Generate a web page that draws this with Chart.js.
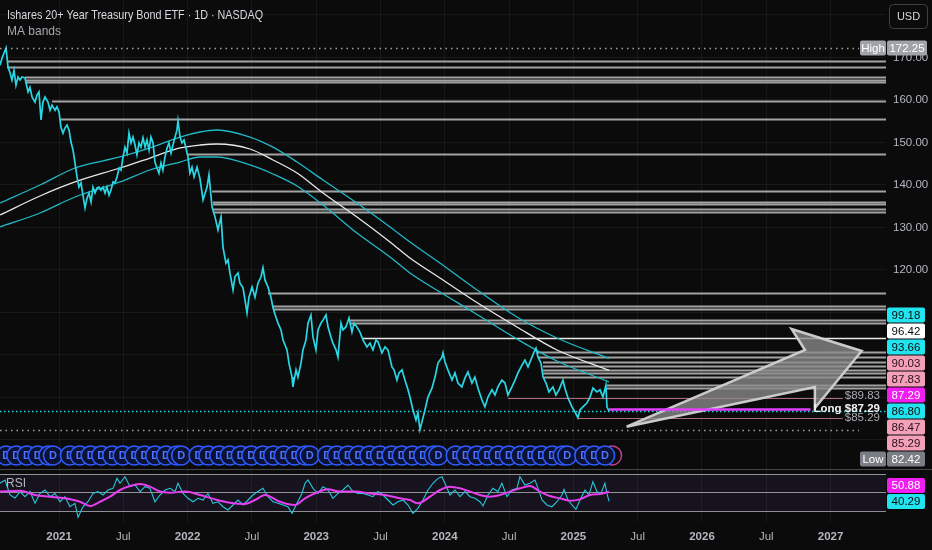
<!DOCTYPE html>
<html>
<head>
<meta charset="utf-8">
<title>TLT daily with MA bands and RSI</title>
<script src="https://cdn.jsdelivr.net/npm/chart.js@4.4.1/dist/chart.umd.min.js"></script>
<style>
  html, body { margin: 0; padding: 0; background: #0b0b0c; }
  #wrap { width: 932px; height: 550px; }
</style>
</head>
<body>
<div id="wrap"><canvas id="tltChart" width="932" height="550"></canvas></div>
<script>
// ---- values (x = decimal year) ----
const priceT = [
  2020.541,2020.557,2020.588,2020.603,2020.619,2020.634,2020.650,2020.665,2020.681,2020.697,
  2020.712,2020.735,2020.759,2020.774,2020.790,2020.813,2020.829,2020.844,2020.860,2020.875,
  2020.891,2020.914,2020.930,2020.945,2020.969,2020.984,2021.000,2021.015,2021.031,2021.046,
  2021.062,2021.078,2021.093,2021.109,2021.124,2021.140,2021.155,2021.171,2021.186,2021.202,
  2021.218,2021.233,2021.249,2021.264,2021.280,2021.295,2021.311,2021.326,2021.342,2021.358,
  2021.373,2021.389,2021.404,2021.420,2021.435,2021.451,2021.467,2021.482,2021.498,2021.513,
  2021.529,2021.544,2021.560,2021.575,2021.591,2021.606,2021.622,2021.637,2021.653,2021.669,
  2021.684,2021.700,2021.715,2021.731,2021.746,2021.762,2021.777,2021.793,2021.808,2021.824,
  2021.840,2021.855,2021.871,2021.886,2021.902,2021.917,2021.925,2021.941,2021.956,2021.972,
  2021.987,2022.003,2022.018,2022.034,2022.050,2022.073,2022.096,2022.120,2022.151,2022.166,
  2022.190,2022.213,2022.236,2022.260,2022.275,2022.298,2022.314,2022.329,2022.353,2022.368,
  2022.392,2022.407,2022.431,2022.462,2022.477,2022.501,2022.524,2022.547,2022.571,2022.586,
  2022.602,2022.625,2022.648,2022.664,2022.687,2022.703,2022.726,2022.742,2022.773,2022.788,
  2022.812,2022.819,2022.843,2022.858,2022.882,2022.897,2022.920,2022.936,2022.959,2022.975,
  2022.998,2023.014,2023.037,2023.053,2023.076,2023.092,2023.115,2023.130,2023.154,2023.169,
  2023.193,2023.208,2023.231,2023.255,2023.278,2023.294,2023.317,2023.340,2023.364,2023.395,
  2023.418,2023.441,2023.465,2023.480,2023.511,2023.535,2023.558,2023.589,2023.605,2023.628,
  2023.644,2023.667,2023.690,2023.714,2023.729,2023.752,2023.776,2023.791,2023.807,2023.830,
  2023.846,2023.869,2023.900,2023.924,2023.947,2023.978,2023.986,2024.001,2024.024,2024.056,
  2024.079,2024.102,2024.133,2024.157,2024.180,2024.211,2024.234,2024.258,2024.289,2024.312,
  2024.336,2024.367,2024.390,2024.413,2024.444,2024.468,2024.491,2024.522,2024.546,2024.569,
  2024.600,2024.623,2024.647,2024.678,2024.694,2024.709,2024.725,2024.748,2024.764,2024.787,
  2024.810,2024.841,2024.864,2024.888,2024.919,2024.934,2024.958,2024.989,2025.012,2025.035,
  2025.051,2025.074,2025.105,2025.129,2025.152,2025.183,2025.207,2025.230,2025.253,2025.261,
  2025.277
];
const priceClose = [
  168.2,169.9,172.25,167.8,166.4,164.7,167.0,163.5,165.4,164.7,
  165.4,165.2,161.9,163.0,160.7,159.5,161.2,161.9,155.3,159.5,
  160.7,159.5,157.6,158.8,157.6,158.4,157.2,153.6,152.2,153.4,
  154.1,152.9,150.1,148.2,145.2,141.9,139.5,140.5,137.6,134.6,
  136.9,138.1,136.0,139.5,138.1,139.3,139.5,138.8,139.5,138.1,
  139.5,137.6,138.8,140.7,140.5,141.9,144.0,143.5,146.6,148.9,
  147.5,152.2,149.9,151.3,149.4,147.1,149.9,148.9,151.1,148.9,
  150.6,148.2,151.3,149.9,145.4,144.0,142.8,145.2,143.5,146.6,
  148.7,149.9,147.5,149.4,151.3,152.9,155.1,151.3,149.9,150.6,
  148.7,146.6,142.8,144.2,141.9,144.2,141.5,136.5,139.5,142.4,
  134.8,132.5,129.4,132.5,125.4,121.6,122.4,119.3,115.3,118.4,
  119.3,116.9,115.8,109.9,113.6,116.0,113.6,116.9,118.4,120.5,
  117.6,116.0,113.6,111.1,108.9,107.5,105.9,103.5,101.2,98.1,
  94.8,92.5,96.5,94.8,98.1,101.2,103.5,107.5,109.4,104.2,
  101.2,105.9,107.5,108.2,109.4,106.6,104.2,102.8,101.2,99.5,
  107.5,105.9,106.6,108.7,105.4,107.5,106.6,105.4,103.5,101.9,
  102.8,101.2,103.5,103.1,100.5,101.9,101.2,97.2,96.5,94.1,
  95.8,96.5,94.1,91.8,90.1,87.1,84.7,86.4,82.42,85.2,
  87.1,90.1,92.2,94.8,98.1,99.5,100.5,98.4,96.5,94.1,
  95.8,93.4,92.5,94.6,96.0,93.4,94.8,92.2,89.4,87.8,
  90.1,91.8,90.6,92.5,94.1,93.4,90.6,92.5,94.1,95.8,
  97.6,98.8,97.2,99.5,100.7,101.6,99.5,98.1,94.8,93.4,
  91.3,92.5,90.6,91.8,94.1,92.2,89.9,87.8,86.6,85.2,
  87.1,87.8,88.7,90.1,92.2,91.3,91.8,90.1,92.9,87.8,
  86.80
];

// MA bands
const bandT = [2020.541,2020.852,2021.124,2021.474,2021.707,2021.941,2022.096,2022.228,2022.485,2022.664,
               2022.851,2023.053,2023.317,2023.574,2023.729,2023.962,2024.219,2024.561,2024.872,2025.277];
const bandUpper = [135.76,140.0,144.0,146.59,148.71,151.29,152.47,152.94,151.29,148.9,
                   145.4,141.18,135.76,130.12,126.59,121.65,116.0,108.94,104.0,99.18];
const bandMid = [132.94,137.41,140.71,144.0,146.35,148.71,149.41,149.65,148.47,145.88,
                 142.82,138.12,132.47,126.59,122.82,118.12,112.94,106.59,101.18,96.42];
const bandLower = [130.12,133.41,137.18,140.71,143.53,145.41,146.59,146.59,144.71,142.59,
                   139.76,135.29,128.71,123.06,119.29,114.82,110.12,103.76,98.59,93.66];

// RSI and its moving average
const rsiT = [
  2020.541,2020.580,2020.619,2020.658,2020.697,2020.735,2020.774,2020.813,2020.852,2020.891,
  2020.930,2020.969,2021.008,2021.046,2021.085,2021.124,2021.148,2021.186,2021.225,2021.264,
  2021.303,2021.342,2021.381,2021.420,2021.451,2021.474,2021.513,2021.552,2021.591,2021.630,
  2021.669,2021.707,2021.746,2021.785,2021.824,2021.863,2021.902,2021.925,2021.964,2022.003,
  2022.042,2022.081,2022.120,2022.158,2022.197,2022.236,2022.275,2022.314,2022.353,2022.392,
  2022.431,2022.470,2022.508,2022.547,2022.586,2022.625,2022.664,2022.703,2022.742,2022.780,
  2022.812,2022.850,2022.889,2022.913,2022.936,2022.975,2023.014,2023.053,2023.092,2023.130,
  2023.169,2023.208,2023.247,2023.286,2023.325,2023.364,2023.403,2023.441,2023.480,2023.519,
  2023.558,2023.597,2023.636,2023.675,2023.714,2023.752,2023.791,2023.830,2023.869,2023.908,
  2023.947,2023.978,2024.001,2024.040,2024.079,2024.118,2024.157,2024.196,2024.235,2024.273,
  2024.297,2024.336,2024.374,2024.413,2024.444,2024.483,2024.522,2024.561,2024.584,2024.623,
  2024.662,2024.701,2024.725,2024.756,2024.794,2024.833,2024.872,2024.911,2024.927,2024.958,
  2024.989,2025.020,2025.051,2025.090,2025.121,2025.152,2025.183,2025.214,2025.245,2025.261,
  2025.277
];
const rsiValue = [
  60,63.5,47.3,44,50.9,45.5,51,38.3,49,52.7,
  45.5,49,40,45.5,34.6,38.3,23.2,34.6,40,49,
  51,47.3,52.7,54.5,65.3,60,67.1,56.3,58.1,51,
  56.3,54.5,40,47.3,52.7,54.5,51,60,49,43.7,
  40,43.7,41.9,49,38.3,40,34.6,31.1,36.5,41.9,
  36.5,41.9,47.3,51,54.5,45.5,40,38.3,36.5,34.6,
  27.5,38.3,49,60,63.5,54.5,49,56.3,52.7,43.7,
  49,52.7,58.1,51,49,49,47.3,45.5,51,47.3,
  41.9,36.5,40,41.9,36.5,27.5,32.9,41.9,52.7,60,
  65.3,67.1,60,47.3,52.7,45.5,51,45.5,43.7,40,
  35.4,47.3,54.5,51,60,45.5,52.7,54.5,67.1,58.1,
  60,63.5,54.5,41.9,36.5,34.6,40,47.3,53.5,41.9,
  36.5,31.8,41.9,52.7,47.3,61.7,51,49,60,49,
  40.29
];
const rsiMaT = [
  2020.541,2020.697,2020.813,2020.930,2021.046,2021.163,2021.241,2021.319,2021.396,2021.474,
  2021.552,2021.630,2021.707,2021.785,2021.863,2021.980,2022.096,2022.213,2022.329,2022.446,
  2022.524,2022.602,2022.718,2022.835,2022.913,2022.990,2023.092,2023.185,2023.302,2023.418,
  2023.535,2023.651,2023.729,2023.791,2023.885,2023.962,2024.040,2024.118,2024.196,2024.273,
  2024.351,2024.429,2024.507,2024.584,2024.662,2024.740,2024.818,2024.895,2024.973,2025.051,
  2025.129,2025.207,2025.277
];
const rsiMa = [
  51,52,47.3,45.5,43.7,40,35.4,40,45.5,52.7,
  57,59.2,56.3,51,49.8,51,47.3,42.6,39,37.6,
  41.9,47.3,40,36.5,43.7,49,53.5,51,51,49,
  47.3,43.7,41.9,38.3,45.5,52.7,56.3,54.5,51,47.3,
  45.5,47.3,51,54.5,57,51,46.2,43.7,41.1,42.6,
  47.3,48.4,50.88
];
const rsiLevels = [70, 50, 30];

// horizontal rays drawn on the chart: price level and the date they start
const rayLevels = [169.2,167.8,165.4,164.7,164.2,159.8,155.5,147.3,138.6,136.0,135.5,134.4,133.7,
                   114.6,111.5,110.8,108.2,107.5,104.0,100.7,99.5,98.4,97.4,96.5,95.8,94.8,92.9,92.2];
const rayStarts = [2020.595,2020.595,2020.735,2020.735,2020.735,2020.945,2021.008,2022.003,2022.190,2022.197,
                   2022.197,2022.197,2022.197,2022.625,2022.664,2022.664,2023.263,2023.263,2023.364,2024.717,
                   2024.725,2024.764,2024.764,2024.764,2024.764,2024.764,2025.261,2025.261];
const brightRay = 104.0;

// axes
const xTicks = [2021,2021.5,2022,2022.5,2023,2023.5,2024,2024.5,2025,2025.5,2026,2026.5,2027];
const priceTicks = [80,90,100,110,120,130,140,150,160,170,180];
const labelledPriceTicks = [120,130,140,150,160,170];   // the others sit under the tags / USD box

// marks and labels
const highValue = 172.25, lowValue = 82.42, lastPrice = 86.80;
const longEntry = 87.29, targetLevel = 89.83, stopLevel = 85.29;
const targetStart = 2024.491, stopStart = 2025.035;
const tagValues = [99.18, 96.42, 93.66, 90.03, 87.83, 87.29, 86.80, 86.47, 85.29, 82.42];
const tagKinds = ['band', 'mid', 'band', 'pink', 'pink', 'long', 'last', 'pink', 'pink', 'low'];
const rsiTagValues = [50.88, 40.29];
const rsiTagKinds = ['rsiMa', 'rsi'];
const arrowT = [2025.414, 2026.801, 2026.697, 2027.242, 2026.878, 2026.878];
const arrowP = [83.13, 101.18, 106.12, 100.94, 87.53, 92.47];
const dividendYears = [2020, 2021, 2022, 2023, 2024, 2025];
const dividendDays = ['02-01','03-01','04-01','05-01','06-01','07-01','08-03','09-01','10-01','11-01','12-01','12-14'];
const firstDividend = 2020.58, lastDividend = 2025.26;

// ---- styles ----
const BG = '#0b0b0c';
const GRID = 'rgba(255,255,255,0.055)';
const AXIS_TEXT = '#b4b7be';
const FONT = "'Liberation Sans', 'DejaVu Sans', sans-serif";
const PRICE_CYAN = '#2ad6e4';
const BAND_CYAN = '#22b9c6';
const MAGENTA = '#e63ff0';
const TAG_STYLE = {
  band:  ['#22e4ef', '#0b0b0c'],
  mid:   ['#ffffff', '#0b0b0c'],
  pink:  ['#f3a0b8', '#2a1219'],
  long:  ['#f01ef0', '#ffffff'],
  last:  ['#22e4ef', '#0b0b0c'],
  low:   ['#7a7d86', '#ffffff'],
  rsiMa: ['#f01ef0', '#ffffff'],
  rsi:   ['#22e4ef', '#0b0b0c']
};

const pts = (xs, ys) => xs.map((v, i) => ({ x: v, y: ys[i] }));

function toYear(y, md) {
  const [m, d] = md.split('-').map(Number);
  return y + (Date.UTC(y, m - 1, d) - Date.UTC(y, 0, 1)) / (365.25 * 86400000);
}
const dividendT = [];
dividendYears.forEach(y => dividendDays.forEach(md => {
  const t = toYear(y, md);
  if (t >= firstDividend && t <= lastDividend) dividendT.push(t);
}));

function roundRect(ctx, x, y, w, h, r) {
  ctx.beginPath();
  ctx.moveTo(x + r, y);
  ctx.arcTo(x + w, y, x + w, y + h, r);
  ctx.arcTo(x + w, y + h, x, y + h, r);
  ctx.arcTo(x, y + h, x, y, r);
  ctx.arcTo(x, y, x + w, y, r);
  ctx.closePath();
}

// keep the last value's tag on its level and push the others away from it
function stackTags(values, anchor, scale, step) {
  const order = values.map((v, i) => i).sort((a, b) => values[b] - values[a]);
  const ys = new Array(values.length);
  const k = order.findIndex(i => values[i] === anchor);
  ys[order[k]] = scale.getPixelForValue(anchor);
  for (let j = k - 1; j >= 0; j--) {
    ys[order[j]] = Math.min(scale.getPixelForValue(values[order[j]]), ys[order[j + 1]] - step);
  }
  for (let j = k + 1; j < order.length; j++) {
    ys[order[j]] = Math.max(scale.getPixelForValue(values[order[j]]), ys[order[j - 1]] + step);
  }
  return ys;
}

function drawTag(ctx, x, yc, w, bg, fg, text) {
  const h = 15;
  ctx.fillStyle = bg;
  roundRect(ctx, x, yc - h / 2, w, h, 2);
  ctx.fill();
  ctx.fillStyle = fg;
  ctx.textAlign = 'center';
  ctx.textBaseline = 'middle';
  ctx.fillText(text, x + w / 2, yc + 0.5);
}

function hLine(ctx, x0, x1, y, color, width, dash) {
  ctx.save();
  ctx.strokeStyle = color;
  ctx.lineWidth = width;
  ctx.setLineDash(dash || []);
  ctx.beginPath();
  ctx.moveTo(x0, y);
  ctx.lineTo(x1, y);
  ctx.stroke();
  ctx.restore();
}

const overlay = {
  id: 'tvOverlay',
  beforeDraw(chart) {
    const { ctx, width, height } = chart;
    ctx.save();
    ctx.fillStyle = BG;
    ctx.fillRect(0, 0, width, height);
    ctx.restore();
  },
  beforeDatasetsDraw(chart) {
    const { ctx, chartArea: a, scales: { x, y, yRsi } } = chart;
    ctx.save();
    // RSI band
    const y70 = yRsi.getPixelForValue(70), y30 = yRsi.getPixelForValue(30);
    ctx.fillStyle = 'rgba(126,87,194,0.10)';
    ctx.fillRect(a.left, y70, a.right - a.left, y30 - y70);
    rsiLevels.forEach(l => hLine(ctx, a.left, a.right, Math.round(yRsi.getPixelForValue(l)) + 0.5, 'rgba(200,200,204,0.7)', 1));
    // horizontal rays
    rayLevels.forEach((lvl, i) => {
      const py = Math.round(y.getPixelForValue(lvl)) + 0.5;
      const px = x.getPixelForValue(rayStarts[i]);
      if (lvl === brightRay) hLine(ctx, px, a.right, py, '#e9e9e9', 1.6);
      else hLine(ctx, px, a.right, py, 'rgba(178,178,178,0.9)', 1.8);
    });
    ctx.restore();
  },
  afterDatasetsDraw(chart) {
    const { ctx, chartArea: a, scales: { x, y } } = chart;
    ctx.save();
    const paneBottom = y.bottom;
    const tagLeft = a.right - 27;

    // dotted high / low / last price lines
    hLine(ctx, a.left, tagLeft, Math.round(y.getPixelForValue(highValue)) + 0.5, 'rgba(200,200,200,0.8)', 1.3, [1.5, 4]);
    hLine(ctx, a.left, tagLeft, Math.round(y.getPixelForValue(lowValue)) + 0.5, 'rgba(200,200,200,0.8)', 1.3, [1.5, 4]);
    hLine(ctx, a.left, a.right, Math.round(y.getPixelForValue(lastPrice)) + 0.5, PRICE_CYAN, 1.3, [1.5, 2.5]);

    // position labels
    const textRight = a.right - 6;
    ctx.font = `11.5px ${FONT}`;
    const tW = ctx.measureText('$' + targetLevel.toFixed(2)).width;
    const sW = ctx.measureText('$' + stopLevel.toFixed(2)).width;
    ctx.font = `bold 11.5px ${FONT}`;
    const lW = ctx.measureText('Long $' + longEntry.toFixed(2)).width;
    const yTg = y.getPixelForValue(targetLevel), ySt = y.getPixelForValue(stopLevel), yLg = y.getPixelForValue(longEntry);
    hLine(ctx, x.getPixelForValue(targetStart), textRight - tW - 2, Math.round(yTg) + 0.5, 'rgba(240,150,180,0.7)', 1);
    hLine(ctx, x.getPixelForValue(stopStart), textRight - sW - 2, Math.round(ySt) + 0.5, 'rgba(240,150,180,0.7)', 1);

    // arrow drawing
    ctx.beginPath();
    arrowT.forEach((t, i) => {
      const px = x.getPixelForValue(t), py = y.getPixelForValue(arrowP[i]);
      if (i === 0) ctx.moveTo(px, py); else ctx.lineTo(px, py);
    });
    ctx.closePath();
    ctx.fillStyle = 'rgba(138,138,138,0.78)';
    ctx.fill();
    ctx.lineJoin = 'miter';
    ctx.lineWidth = 2.5;
    ctx.strokeStyle = 'rgba(210,210,210,0.95)';
    ctx.stroke();

    // long entry line and texts
    hLine(ctx, x.getPixelForValue(priceT[priceT.length - 1]), textRight - lW - 3, Math.round(yLg) + 0.5, '#e040fb', 2.5);
    ctx.textAlign = 'right';
    ctx.textBaseline = 'middle';
    ctx.font = `11.5px ${FONT}`;
    ctx.fillStyle = '#a9abb0';
    ctx.fillText('$' + targetLevel.toFixed(2), textRight, yTg - 2);
    ctx.fillText('$' + stopLevel.toFixed(2), textRight, ySt);
    ctx.font = `bold 11.5px ${FONT}`;
    ctx.fillStyle = '#f4f4f4';
    ctx.fillText('Long $' + longEntry.toFixed(2), textRight, yLg);

    // dividend markers
    const cy = paneBottom - 14.5, r = 9.5;
    const lastX = x.getPixelForValue(priceT[priceT.length - 1]);
    ctx.beginPath();
    ctx.arc(lastX + 3, cy, r, 0, Math.PI * 2);
    ctx.strokeStyle = '#c2408f';
    ctx.lineWidth = 1.5;
    ctx.stroke();
    dividendT.forEach(t => {
      const px = x.getPixelForValue(t);
      ctx.beginPath();
      ctx.arc(px, cy, r, 0, Math.PI * 2);
      ctx.fillStyle = '#0c1233';
      ctx.fill();
      ctx.strokeStyle = '#2f5cff';
      ctx.lineWidth = 1.6;
      ctx.stroke();
      ctx.fillStyle = '#4f72ff';
      ctx.font = `bold 11px ${FONT}`;
      ctx.textAlign = 'center';
      ctx.textBaseline = 'middle';
      ctx.fillText('D', px, cy + 0.5);
    });

    // pane separator
    hLine(ctx, 0, chart.width, Math.round(paneBottom) - 0.5, 'rgba(120,120,126,0.55)', 1);
    ctx.restore();
  },
  afterDraw(chart) {
    const { ctx, chartArea: a, scales: { y, yRsi } } = chart;
    ctx.save();
    const tagX = a.right + 1, tagW = 38;
    ctx.font = `11.5px ${FONT}`;

    // price tags
    const ys = stackTags(tagValues, lastPrice, y, 16);
    tagValues.forEach((v, i) => {
      const [bg, fg] = TAG_STYLE[tagKinds[i]];
      drawTag(ctx, tagX, ys[i], tagW, bg, fg, v.toFixed(2));
      if (tagKinds[i] === 'low') drawTag(ctx, tagX - 27, ys[i], 26, bg, fg, 'Low');
    });
    // high tag
    const yH = y.getPixelForValue(highValue);
    drawTag(ctx, tagX, yH, tagW + 2, '#a0a3aa', '#ffffff', highValue.toFixed(2));
    drawTag(ctx, tagX - 27, yH, 26, '#a0a3aa', '#ffffff', 'High');
    // RSI tags
    const ry = stackTags(rsiTagValues, rsiTagValues[rsiTagValues.length - 1], yRsi, 16);
    rsiTagValues.forEach((v, i) => {
      const [bg, fg] = TAG_STYLE[rsiTagKinds[i]];
      drawTag(ctx, tagX, ry[i], tagW, bg, fg, v.toFixed(2));
    });

    // legend texts
    ctx.textAlign = 'left';
    ctx.textBaseline = 'middle';
    ctx.fillStyle = '#d6d8de';
    ctx.font = `13px ${FONT}`;
    ctx.fillText('Ishares 20+ Year Treasury Bond ETF \u00b7 1D \u00b7 NASDAQ', 7, 15, 256);
    ctx.fillStyle = '#a4a7ae';
    ctx.font = `12px ${FONT}`;
    ctx.fillText('MA bands', 7, 32);
    ctx.fillStyle = '#b4b7be';
    ctx.fillText('RSI', 6, yRsi.top + 14);

    // currency button
    roundRect(ctx, 889.5, 4.5, 38, 24, 4);
    ctx.fillStyle = BG;
    ctx.fill();
    ctx.strokeStyle = '#3d4049';
    ctx.lineWidth = 1;
    ctx.stroke();
    ctx.fillStyle = '#d6d8de';
    ctx.font = `11px ${FONT}`;
    ctx.textAlign = 'center';
    ctx.fillText('USD', 908.5, 17);
    ctx.restore();
  }
};

new Chart(document.getElementById('tltChart'), {
  type: 'line',
  data: {
    datasets: [
      { label: 'TLT', data: pts(priceT, priceClose), yAxisID: 'y', borderColor: PRICE_CYAN, borderWidth: 1.7, pointRadius: 0, order: 0 },
      { label: 'MA upper', data: pts(bandT, bandUpper), yAxisID: 'y', borderColor: BAND_CYAN, borderWidth: 1.3, pointRadius: 0, cubicInterpolationMode: 'monotone', order: 2 },
      { label: 'MA', data: pts(bandT, bandMid), yAxisID: 'y', borderColor: '#e8e8e8', borderWidth: 1.3, pointRadius: 0, cubicInterpolationMode: 'monotone', order: 1 },
      { label: 'MA lower', data: pts(bandT, bandLower), yAxisID: 'y', borderColor: BAND_CYAN, borderWidth: 1.3, pointRadius: 0, cubicInterpolationMode: 'monotone', order: 3 },
      { label: 'RSI', data: pts(rsiT, rsiValue), yAxisID: 'yRsi', borderColor: '#26c6da', borderWidth: 1.1, pointRadius: 0, order: 5 },
      { label: 'RSI MA', data: pts(rsiMaT, rsiMa), yAxisID: 'yRsi', borderColor: MAGENTA, borderWidth: 2, pointRadius: 0, cubicInterpolationMode: 'monotone', order: 4 }
    ]
  },
  options: {
    responsive: false,
    animation: false,
    events: [],
    layout: { padding: 0 },
    plugins: { legend: { display: false }, tooltip: { enabled: false } },
    scales: {
      x: {
        type: 'linear',
        position: 'bottom',
        min: 2020.541,
        max: 2027.431,
        grid: { color: GRID, drawTicks: false },
        border: { display: false },
        afterBuildTicks: s => { s.ticks = xTicks.map(v => ({ value: v })); },
        afterFit: s => { s.height = 28; s.paddingLeft = 0; s.paddingRight = 0; },
        ticks: {
          color: AXIS_TEXT,
          padding: 8,
          autoSkip: false,
          maxRotation: 0,
          callback: v => Number.isInteger(v) ? String(v) : 'Jul',
          font: c => ({ family: FONT, size: 11.5, weight: (c.tick && Number.isInteger(c.tick.value)) ? 'bold' : 'normal' })
        }
      },
      y: {
        type: 'linear',
        position: 'right',
        stack: 'panes',
        stackWeight: 470,
        min: 72.941,
        max: 183.529,
        grid: { color: GRID, drawTicks: false },
        border: { display: false },
        afterBuildTicks: s => { s.ticks = priceTicks.map(v => ({ value: v })); },
        afterFit: s => { s.width = 46; s.paddingTop = 0; s.paddingBottom = 0; },
        ticks: {
          color: AXIS_TEXT,
          padding: 7,
          font: { family: FONT, size: 11.5 },
          callback: v => labelledPriceTicks.includes(v) ? v.toFixed(2) : ''
        }
      },
      yRsi: {
        type: 'linear',
        position: 'right',
        stack: 'panes',
        stackWeight: 52,
        min: 18.108,
        max: 74.324,
        grid: { display: false, drawTicks: false },
        border: { display: false },
        ticks: { display: false },
        afterFit: s => { s.width = 46; s.paddingTop = 0; s.paddingBottom = 0; }
      }
    }
  },
  plugins: [overlay]
});
</script>
</body>
</html>
